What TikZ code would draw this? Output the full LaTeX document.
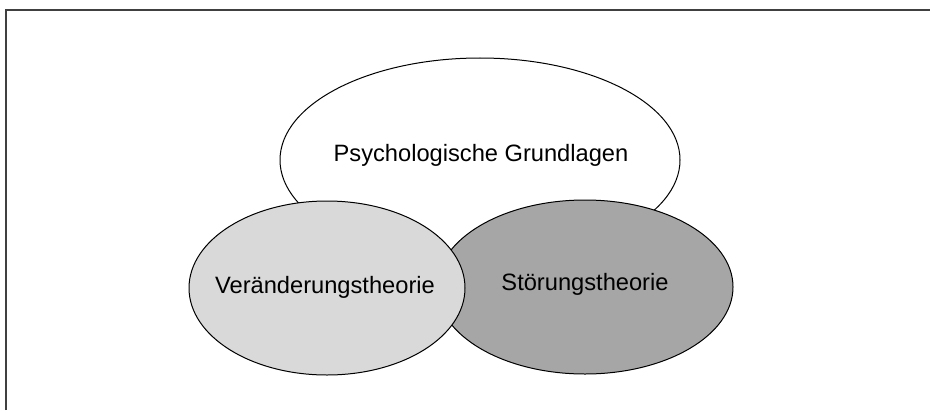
\documentclass[tikz,border=0pt]{standalone}
\usepackage{fontspec}
\setmainfont{Liberation Sans}
\usepackage{xcolor}
\usepackage{tikz}
\usetikzlibrary{shapes.geometric, positioning}

\definecolor{lightfill}{HTML}{D9D9D9}
\definecolor{darkfill}{HTML}{A6A6A6}

\tikzset{
    field/.style={ellipse, draw=black, line width=0.75pt, inner sep=0pt,
        font=\fontsize{17.75}{21}\selectfont},
}

\begin{document}
\begin{tikzpicture}[x=0.75pt, y=-0.75pt]
    \useasboundingbox (0,0) rectangle (930,410);

    % Frame (cut off at right and bottom)
    \coordinate (FrameTL) at (6,10);
    \coordinate (FrameTR) at (930,10);
    \coordinate (FrameBL) at (6,410);
    \draw[black!75, line width=1.5pt] (FrameBL) -- (FrameTL) -- (FrameTR);

    % Psychological foundations
    \node[field, fill=white, minimum width=300pt, minimum height=153pt]
        (grundlagen) at (480,160) {};
    \node (grundlagentext) at (481,155) {\fontsize{17.75}{21}\selectfont Psychologische Grundlagen};

    % Disorder theory
    \node[field, fill=darkfill, minimum width=222pt, minimum height=130.5pt]
        (stoerung) at (585,287) {};
    \node (stoerungtext) at (585,284) {\fontsize{17.75}{21}\selectfont Störungstheorie};

    % Change theory
    \node[field, fill=lightfill, minimum width=207pt, minimum height=130.5pt]
        (veraenderung) at (327,288) {};
    \node (veraenderungtext) at (325,287) {\fontsize{17.75}{21}\selectfont Veränderungstheorie};
\end{tikzpicture}
\end{document}
